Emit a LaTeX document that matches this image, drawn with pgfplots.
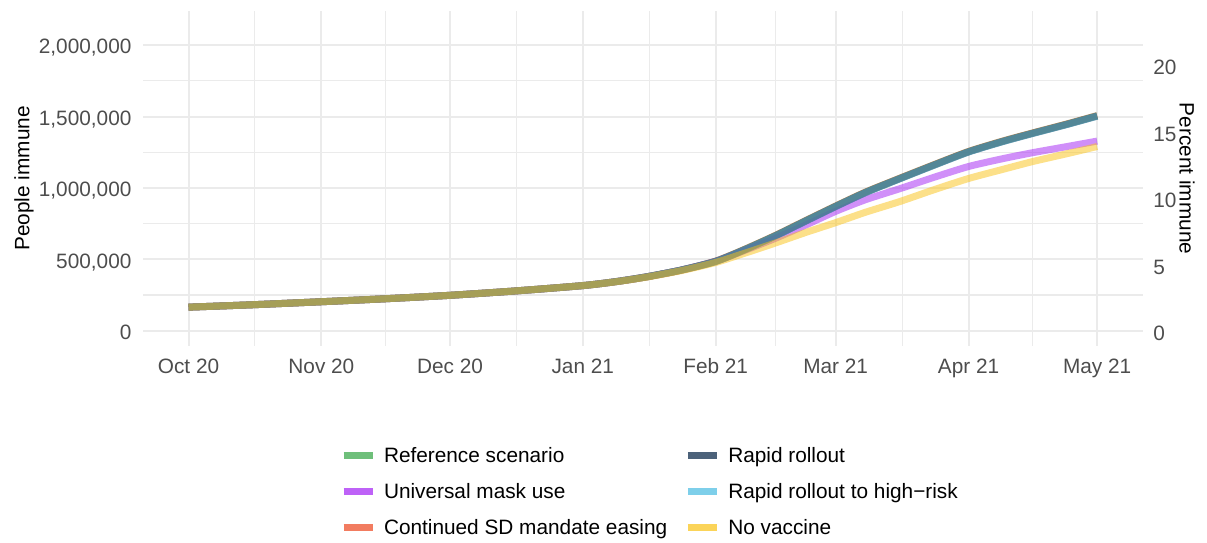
\documentclass[border=0pt]{standalone}
\usepackage{fontspec}
\setmainfont{Liberation Sans}
\usepackage{pgfplots}
\usepackage{pgfplotstable}
\pgfplotsset{compat=1.18}
\definecolor{cRef}{HTML}{31A441}
\definecolor{cMask}{HTML}{A220F4}
\definecolor{cSD}{HTML}{EC451C}
\definecolor{cRapid}{HTML}{002042}
\definecolor{cRapidHR}{HTML}{47BAE1}
\definecolor{cNoVac}{HTML}{F9C213}
\definecolor{gridc}{HTML}{EBEBEB}
\definecolor{tickc}{HTML}{4D4D4D}

% day = days since 1 Oct 2020
\pgfplotstableread{
day ref mask sd rapid rapidhr novac
0 165000 165000 165000 165000 165000 165000
15 182000 182000 182000 182000 182000 182000
31 203000 203000 203000 203000 203000 203000
46 224000 224000 224000 224000 224000 224000
61 248000 248000 248000 248000 248000 248000
76 278000 278000 278000 278000 278000 278000
92 316000 316000 316000 316000 316000 316000
100 345000 345000 345000 345000 345000 344000
107 378000 378000 378000 378000 378000 376000
115 425000 425000 425000 425000 425000 421000
123 487000 486000 487000 485000 485000 478000
130 573000 565000 573000 570000 570000 545000
137 668000 648000 668000 665000 665000 615000
144 771000 740000 771000 768000 768000 688000
151 873000 836000 873000 870000 870000 757000
158 971000 918000 971000 968000 968000 830000
166 1068000 995000 1068000 1065000 1065000 905000
174 1163000 1075000 1163000 1160000 1160000 988000
182 1255000 1150000 1255000 1252000 1252000 1066000
190 1328000 1205000 1328000 1325000 1325000 1130000
197 1385000 1247000 1385000 1382000 1382000 1185000
205 1448000 1290000 1448000 1445000 1445000 1240000
212 1506000 1328000 1506000 1503000 1503000 1290000
}\immdata

\begin{document}
\begin{tikzpicture}
\useasboundingbox (-71.5pt,-98pt) rectangle (532pt,173pt);
\begin{axis}[
  scale only axis, width=500pt, height=167.5pt,
  at={(0pt,0pt)}, anchor=south west,
  xmin=-10.62, xmax=222.7, ymin=-107000, ymax=2239000,
  xtick={0,31,61,92,123,151,182,212},
  xticklabels={Oct 20,Nov 20,Dec 20,Jan 21,Feb 21,Mar 21,Apr 21,May 21},
  minor xtick={15.5,46,76.5,107.5,137,166.5,197},
  ytick={0,500000,1000000,1500000,2000000},
  yticklabels={0,{500,000},{1,000,000},{1,500,000},{2,000,000}},
  minor ytick={250000,750000,1250000,1750000},
  scaled y ticks=false,
  grid=both,
  major grid style={draw=gridc, line width=1pt},
  minor grid style={draw=gridc, line width=0.55pt},
  axis line style={draw=none},
  major tick length=0pt, minor tick length=0pt,
  tick style={draw=none},
  tick label style={font=\fontsize{10.4}{12}\selectfont, text=tickc, inner sep=0pt, text depth=0pt},
  xticklabel style={anchor=north, text height=7.45pt, yshift=-5.85pt},
  yticklabel style={anchor=east, xshift=-5.6pt, yshift=-0.8pt},
  every axis y label/.style={at={(axis description cs:-0.119,0.5)}, rotate=90, anchor=center, inner sep=0pt, font=\fontsize{10.4}{12}\selectfont},
  ylabel={People immune},
  legend columns=2,
  legend cell align=left,
  legend image code/.code={\draw[#1, line width=3.5pt, opacity=0.7] (0pt,0pt) -- (14.5pt,0pt);},
  legend style={at={(axis description cs:0.197,-0.303)}, anchor=north west, draw=none, fill=none,
    inner sep=0pt, outer sep=0pt, column sep=0pt, row sep=10.5pt,
    /tikz/every odd column/.append style={column sep=4pt},
    /tikz/every even column/.append style={column sep=8.5pt},
    nodes={inner sep=0pt, text depth=0pt, text height=7.5pt, font=\fontsize{10.4}{12}\selectfont}},
  every axis plot/.append style={line width=3.5pt, opacity=0.5, line join=round, smooth, tension=0.4},
]
\addplot[cRef, forget plot] table[x=day, y=ref] {\immdata};
\addplot[cMask, forget plot] table[x=day, y=mask] {\immdata};
\addplot[cSD, forget plot] table[x=day, y=sd] {\immdata};
\addplot[cRapid, forget plot] table[x=day, y=rapid] {\immdata};
\addplot[cRapidHR, forget plot] table[x=day, y=rapidhr] {\immdata};
\addplot[cNoVac, forget plot] table[x=day, y=novac] {\immdata};
\addlegendimage{cRef}
\addlegendentry{Reference scenario}
\addlegendimage{cRapid}
\addlegendentry{Rapid rollout}
\addlegendimage{cMask}
\addlegendentry{Universal mask use}
\addlegendimage{cRapidHR}
\addlegendentry{Rapid rollout to high\textminus risk}
\addlegendimage{cSD}
\addlegendentry{Continued SD mandate easing}
\addlegendimage{cNoVac}
\addlegendentry{No vaccine}
\end{axis}
\begin{axis}[
  scale only axis, width=500pt, height=167.5pt,
  at={(0pt,0pt)}, anchor=south west,
  xmin=-10.62, xmax=222.7, ymin=-1.08, ymax=24.15,
  hide x axis,
  axis line style={draw=none},
  major tick length=0pt, minor tick length=0pt,
  tick style={draw=none},
  ytick={0,5,10,15,20},
  yticklabels={0,5,10,15,20},
  yticklabel pos=right,
  yticklabel style={anchor=west, xshift=5pt, yshift=-0.8pt, font=\fontsize{10.4}{12}\selectfont, text=tickc, inner sep=0pt, text depth=0pt},
  every axis y label/.style={at={(axis description cs:1.044,0.5)}, rotate=-90, anchor=center, inner sep=0pt, font=\fontsize{10.4}{12}\selectfont},
  ylabel={Percent immune},
]
\addplot[draw=none, forget plot] coordinates {(0,0)};
\end{axis}
\end{tikzpicture}
\end{document}
